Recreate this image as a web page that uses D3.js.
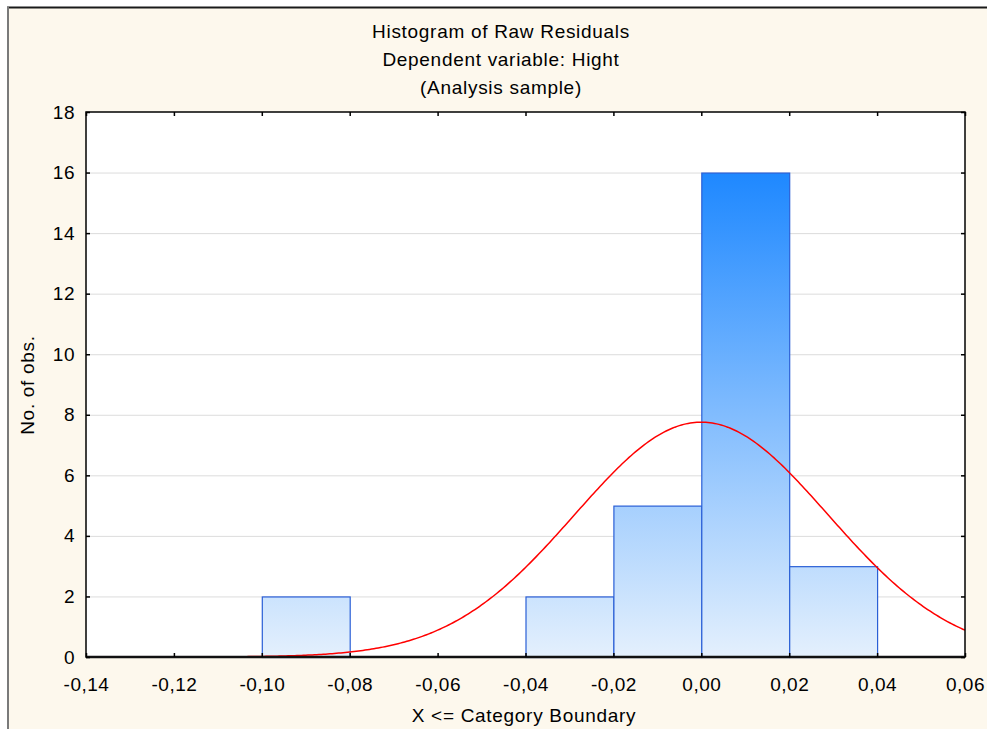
<!DOCTYPE html>
<html><head><meta charset="utf-8">
<script src="https://cdn.jsdelivr.net/npm/d3@7"></script>
<style>
html,body{margin:0;padding:0;background:#fff;}
text{font-family:"Liberation Sans",Arial,sans-serif;fill:#000;}
</style></head>
<body>
<svg id="chart" width="987" height="729"></svg>
<script>
// ---- data ----
const titleLines = ["Histogram of Raw Residuals", "Dependent variable: Hight", "(Analysis sample)"];
const binStart = [-0.10, -0.04, -0.02, 0.00, 0.02];
const binEnd   = [-0.08, -0.02, 0.00, 0.02, 0.04];
const binCount = [2, 2, 5, 16, 3];
const xTickValues = [-0.14, -0.12, -0.10, -0.08, -0.06, -0.04, -0.02, 0.00, 0.02, 0.04, 0.06];
const xTickLabels = ["-0,14", "-0,12", "-0,10", "-0,08", "-0,06", "-0,04", "-0,02", "0,00", "0,02", "0,04", "0,06"];
const yTickValues = [0, 2, 4, 6, 8, 10, 12, 14, 16, 18];
const yTickLabels = ["0", "2", "4", "6", "8", "10", "12", "14", "16", "18"];
const normalMean = [0.0];
const normalSd = [0.0288];
const xLabel = "X <= Category Boundary";
const yLabel = "No. of obs.";

const svg = d3.select("#chart");
const W = 987, H = 729;
const m = {left: 86, right: 965, top: 112, bottom: 657};

// frame
svg.append("rect").attr("x", 8).attr("y", 8).attr("width", W - 8).attr("height", H - 8).attr("fill", "#fdf8ed");
svg.append("line").attr("x1", 7).attr("x2", W).attr("y1", 7.5).attr("y2", 7.5).attr("stroke", "#1a1a1a").attr("stroke-width", 2);
svg.append("line").attr("x1", 8).attr("x2", 8).attr("y1", 7).attr("y2", H).attr("stroke", "#7a7a7a").attr("stroke-width", 2);

const x = d3.scaleLinear().domain([-0.14, 0.06]).range([m.left, m.right]);
const y = d3.scaleLinear().domain([0, 18]).range([m.bottom, m.top]);

// plot bg
svg.append("rect").attr("x", m.left).attr("y", m.top).attr("width", m.right - m.left).attr("height", m.bottom - m.top).attr("fill", "#fff");

// gradient
const defs = svg.append("defs");
const grad = defs.append("linearGradient").attr("id", "barGrad")
  .attr("gradientUnits", "userSpaceOnUse")
  .attr("x1", 0).attr("x2", 0).attr("y1", y(0)).attr("y2", y(16));
grad.append("stop").attr("offset", "0%").attr("stop-color", "#e4f0fd");
grad.append("stop").attr("offset", "100%").attr("stop-color", "#1e88ff");

// grid
svg.append("g").selectAll("line").data(yTickValues.filter(v => v > 0 && v < 18)).join("line")
  .attr("x1", m.left).attr("x2", m.right)
  .attr("y1", d => y(d) + 0.5).attr("y2", d => y(d) + 0.5)
  .attr("stroke", "#dcdcdc").attr("stroke-width", 1);

// bars
const bars = binCount.map((c, i) => ({x0: binStart[i], x1: binEnd[i], c}));
svg.append("g").selectAll("rect").data(bars).join("rect")
  .attr("x", d => x(d.x0) + 0.5)
  .attr("y", d => y(d.c) + 0.5)
  .attr("width", d => x(d.x1) - x(d.x0))
  .attr("height", d => y(0) - y(d.c))
  .attr("fill", "url(#barGrad)")
  .attr("stroke", "#2a5fd6").attr("stroke-width", 1.2);

// normal curve
const n = d3.sum(binCount);
const bw = 0.02;
const pts = d3.range(-0.14, 0.06 + 1e-9, 0.0005).map(v => {
  const z = (v - normalMean[0]) / normalSd[0];
  return [v, n * bw / (normalSd[0] * Math.sqrt(2 * Math.PI)) * Math.exp(-0.5 * z * z)];
});
svg.append("path").datum(pts)
  .attr("d", d3.line().x(d => x(d[0])).y(d => y(d[1])))
  .attr("fill", "none").attr("stroke", "#ff0000").attr("stroke-width", 1.5);

// axes frame
const axG = svg.append("g");
axG.append("rect").attr("x", m.left).attr("y", m.top).attr("width", m.right - m.left).attr("height", m.bottom - m.top)
  .attr("fill", "none").attr("stroke", "#000").attr("stroke-width", 1.5);
axG.append("line").attr("x1", m.left).attr("x2", m.right).attr("y1", m.bottom).attr("y2", m.bottom)
  .attr("stroke", "#111").attr("stroke-width", 2.5);

// axes with d3 axis (inward ticks)
const fmtX = d => xTickLabels[xTickValues.findIndex(v => Math.abs(v - d) < 1e-9)];
const fmtY = d => yTickLabels[yTickValues.indexOf(d)];
const xAxis = svg.append("g").attr("transform", `translate(0,${m.bottom})`)
  .call(d3.axisBottom(x).tickValues(xTickValues).tickFormat(fmtX).tickSizeInner(-4).tickSizeOuter(0).tickPadding(12));
const xAxisTop = svg.append("g").attr("transform", `translate(0,${m.top})`)
  .call(d3.axisTop(x).tickValues(xTickValues).tickFormat("").tickSizeInner(-4).tickSizeOuter(0));
const yAxis = svg.append("g").attr("transform", `translate(${m.left},0)`)
  .call(d3.axisLeft(y).tickValues(yTickValues).tickFormat(fmtY).tickSizeInner(-4).tickSizeOuter(0).tickPadding(12));
const yAxisR = svg.append("g").attr("transform", `translate(${m.right},0)`)
  .call(d3.axisRight(y).tickValues(yTickValues).tickFormat("").tickSizeInner(-4).tickSizeOuter(0));
[xAxis, xAxisTop, yAxis, yAxisR].forEach(g => {
  g.select(".domain").remove();
  g.selectAll(".tick line").attr("stroke", "#000").attr("stroke-width", 1.5);
  g.selectAll("text").attr("font-family", "'Liberation Sans',Arial,sans-serif").attr("font-size", 19)
    .attr("letter-spacing", "0.5px").attr("fill", "#000");
});
xAxis.selectAll("text").attr("dy", "0.71em").attr("y", 21);
yAxis.selectAll("text").attr("x", -11);

// titles
svg.append("g").selectAll("text").data(titleLines).join("text")
  .attr("x", 501).attr("y", (d, i) => 38 + i * 28)
  .attr("text-anchor", "middle").attr("font-size", 19).attr("letter-spacing", "0.7px").text(d => d);

svg.append("text").attr("x", 524).attr("y", 722)
  .attr("text-anchor", "middle").attr("font-size", 19).attr("letter-spacing", "0.7px").text(xLabel);
svg.append("text").attr("transform", `translate(34,385) rotate(-90)`)
  .attr("text-anchor", "middle").attr("font-size", 19).attr("letter-spacing", "0.7px").text(yLabel);
</script>
</body></html>
